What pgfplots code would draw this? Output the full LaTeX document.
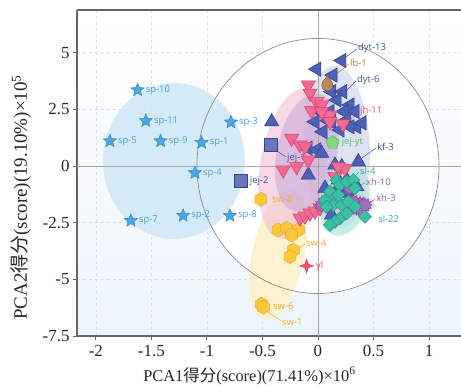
\documentclass[border=0pt]{standalone}
\usepackage{fontspec}
\setmainfont{Liberation Serif}
\newfontfamily\cjk{Noto Sans CJK SC}
\newfontfamily\lab{Open Sans}
\usepackage{pgfplots}
\pgfplotsset{compat=1.18}

\definecolor{axg}{HTML}{666666}
\definecolor{spf}{HTML}{4DA6E0}\definecolor{spd}{HTML}{2B86C8}\definecolor{spt}{HTML}{4A9FD8}
\definecolor{dbf}{HTML}{4D60B3}\definecolor{dbd}{HTML}{2E3E8E}\definecolor{dbt}{HTML}{3E54A3}
\definecolor{jhf}{HTML}{F06A92}\definecolor{jhd}{HTML}{D83E6C}\definecolor{jht}{HTML}{E8507A}
\definecolor{slf}{HTML}{3DBFA5}\definecolor{sld}{HTML}{26947E}\definecolor{slt}{HTML}{2EA891}
\definecolor{xhf}{HTML}{A56CC1}\definecolor{xhd}{HTML}{7D4698}\definecolor{xht}{HTML}{9A5AB5}
\definecolor{swf}{HTML}{FBC73D}\definecolor{swd}{HTML}{EAA81C}\definecolor{swt}{HTML}{F2B22A}
\definecolor{ylf}{HTML}{F2505F}\definecolor{yld}{HTML}{D83545}
\definecolor{jqf}{HTML}{6B75BD}\definecolor{jqd}{HTML}{38438F}
\definecolor{gnf}{HTML}{86D67F}\definecolor{gnd}{HTML}{4CAF50}\definecolor{gnt}{HTML}{5CB85C}
\definecolor{lbf}{HTML}{B8875A}\definecolor{lbd}{HTML}{8A5A30}\definecolor{lbt}{HTML}{B5793F}
\definecolor{bgb}{RGB}{236,244,251}
\definecolor{elsp}{RGB}{207,232,247}
\definecolor{elsw}{RGB}{251,241,204}
\definecolor{eldy}{RGB}{217,223,242}
\definecolor{eljh}{RGB}{244,190,214}
\definecolor{elkf}{RGB}{196,168,216}
\definecolor{elsl}{RGB}{181,227,220}
\definecolor{elxh}{RGB}{210,182,224}

\pgfdeclareplotmark{fstar}{%
 \pgfpathmoveto{\pgfpointpolar{90}{\pgfplotmarksize}}%
 \pgfpathlineto{\pgfpointpolar{126}{0.45\pgfplotmarksize}}%
 \pgfpathlineto{\pgfpointpolar{162}{\pgfplotmarksize}}%
 \pgfpathlineto{\pgfpointpolar{198}{0.45\pgfplotmarksize}}%
 \pgfpathlineto{\pgfpointpolar{234}{\pgfplotmarksize}}%
 \pgfpathlineto{\pgfpointpolar{270}{0.45\pgfplotmarksize}}%
 \pgfpathlineto{\pgfpointpolar{306}{\pgfplotmarksize}}%
 \pgfpathlineto{\pgfpointpolar{342}{0.45\pgfplotmarksize}}%
 \pgfpathlineto{\pgfpointpolar{18}{\pgfplotmarksize}}%
 \pgfpathlineto{\pgfpointpolar{54}{0.45\pgfplotmarksize}}%
 \pgfpathclose\pgfusepathqfillstroke}
\pgfdeclareplotmark{hexa}{%
 \pgfpathmoveto{\pgfpointpolar{90}{\pgfplotmarksize}}%
 \pgfpathlineto{\pgfpointpolar{150}{\pgfplotmarksize}}%
 \pgfpathlineto{\pgfpointpolar{210}{\pgfplotmarksize}}%
 \pgfpathlineto{\pgfpointpolar{270}{\pgfplotmarksize}}%
 \pgfpathlineto{\pgfpointpolar{330}{\pgfplotmarksize}}%
 \pgfpathlineto{\pgfpointpolar{30}{\pgfplotmarksize}}%
 \pgfpathclose\pgfusepathqfillstroke}
\pgfdeclareplotmark{fourstar}{%
 \pgfpathmoveto{\pgfpointpolar{90}{\pgfplotmarksize}}%
 \pgfpathlineto{\pgfpointpolar{135}{0.35\pgfplotmarksize}}%
 \pgfpathlineto{\pgfpointpolar{180}{\pgfplotmarksize}}%
 \pgfpathlineto{\pgfpointpolar{225}{0.35\pgfplotmarksize}}%
 \pgfpathlineto{\pgfpointpolar{270}{\pgfplotmarksize}}%
 \pgfpathlineto{\pgfpointpolar{315}{0.35\pgfplotmarksize}}%
 \pgfpathlineto{\pgfpointpolar{0}{\pgfplotmarksize}}%
 \pgfpathlineto{\pgfpointpolar{45}{0.35\pgfplotmarksize}}%
 \pgfpathclose\pgfusepathqfillstroke}
\pgfdeclareplotmark{burst}{%
 \pgfpathmoveto{\pgfpointpolar{0}{\pgfplotmarksize}}%
 \pgfpathlineto{\pgfpointpolar{15}{0.7\pgfplotmarksize}}%
 \pgfpathlineto{\pgfpointpolar{30}{\pgfplotmarksize}}%
 \pgfpathlineto{\pgfpointpolar{45}{0.7\pgfplotmarksize}}%
 \pgfpathlineto{\pgfpointpolar{60}{\pgfplotmarksize}}%
 \pgfpathlineto{\pgfpointpolar{75}{0.7\pgfplotmarksize}}%
 \pgfpathlineto{\pgfpointpolar{90}{\pgfplotmarksize}}%
 \pgfpathlineto{\pgfpointpolar{105}{0.7\pgfplotmarksize}}%
 \pgfpathlineto{\pgfpointpolar{120}{\pgfplotmarksize}}%
 \pgfpathlineto{\pgfpointpolar{135}{0.7\pgfplotmarksize}}%
 \pgfpathlineto{\pgfpointpolar{150}{\pgfplotmarksize}}%
 \pgfpathlineto{\pgfpointpolar{165}{0.7\pgfplotmarksize}}%
 \pgfpathlineto{\pgfpointpolar{180}{\pgfplotmarksize}}%
 \pgfpathlineto{\pgfpointpolar{195}{0.7\pgfplotmarksize}}%
 \pgfpathlineto{\pgfpointpolar{210}{\pgfplotmarksize}}%
 \pgfpathlineto{\pgfpointpolar{225}{0.7\pgfplotmarksize}}%
 \pgfpathlineto{\pgfpointpolar{240}{\pgfplotmarksize}}%
 \pgfpathlineto{\pgfpointpolar{255}{0.7\pgfplotmarksize}}%
 \pgfpathlineto{\pgfpointpolar{270}{\pgfplotmarksize}}%
 \pgfpathlineto{\pgfpointpolar{285}{0.7\pgfplotmarksize}}%
 \pgfpathlineto{\pgfpointpolar{300}{\pgfplotmarksize}}%
 \pgfpathlineto{\pgfpointpolar{315}{0.7\pgfplotmarksize}}%
 \pgfpathlineto{\pgfpointpolar{330}{\pgfplotmarksize}}%
 \pgfpathlineto{\pgfpointpolar{345}{0.7\pgfplotmarksize}}%
 \pgfpathclose\pgfusepathqfillstroke}
\pgfdeclareplotmark{drop}{%
 \pgfpathmoveto{\pgfpoint{0pt}{1.1\pgfplotmarksize}}%
 \pgfpathcurveto{\pgfpoint{0.3\pgfplotmarksize}{0.6\pgfplotmarksize}}{\pgfpoint{0.75\pgfplotmarksize}{0.3\pgfplotmarksize}}{\pgfpoint{0.75\pgfplotmarksize}{-0.2\pgfplotmarksize}}%
 \pgfpathcurveto{\pgfpoint{0.75\pgfplotmarksize}{-0.65\pgfplotmarksize}}{\pgfpoint{0.4\pgfplotmarksize}{-0.95\pgfplotmarksize}}{\pgfpoint{0pt}{-0.95\pgfplotmarksize}}%
 \pgfpathcurveto{\pgfpoint{-0.4\pgfplotmarksize}{-0.95\pgfplotmarksize}}{\pgfpoint{-0.75\pgfplotmarksize}{-0.65\pgfplotmarksize}}{\pgfpoint{-0.75\pgfplotmarksize}{-0.2\pgfplotmarksize}}%
 \pgfpathcurveto{\pgfpoint{-0.75\pgfplotmarksize}{0.3\pgfplotmarksize}}{\pgfpoint{-0.3\pgfplotmarksize}{0.6\pgfplotmarksize}}{\pgfpoint{0pt}{1.1\pgfplotmarksize}}%
 \pgfpathclose\pgfusepathqfillstroke}

\tikzset{lbl/.style={font=\lab\fontsize{9.5}{10}\selectfont, anchor=west, inner sep=0pt},
  ldr/.style={line width=0.5pt}}

\begin{document}
\begin{tikzpicture}
\begin{axis}[
  at={(0,0)}, anchor=south west, scale only axis,
  width=384bp, height=326bp,
  xmin=-2.17, xmax=1.288, ymin=-7.5, ymax=6.88,
  axis x line*=bottom, axis y line*=left,
  axis line style={color=axg, line width=1.2pt},
  axis background/.style={shade, top color=white, middle color=white, bottom color=bgb},
  xtick={-2,-1.5,-1,-0.5,0,0.5,1},
  ytick={-7.5,-5,-2.5,0,2.5,5},
  tick align=outside, major tick length=4bp,
  tick style={color=axg, line width=0.9pt},
  /pgf/number format/assume math mode=true,
  ticklabel style={font=\fontsize{17}{17}\selectfont, color=black!85},
  xticklabel style={yshift=-2bp},
  grid=major, major grid style={dashed, color=black!12, line width=0.5pt},
  xlabel={PCA1{\cjk 得分}(score)(71.41\%)×10\textsuperscript{6}},
  ylabel={PCA2{\cjk 得分}(score)(19.10\%)×10\textsuperscript{5}},
  xlabel style={at={(axis description cs:0.449,0)}, anchor=center, yshift=-40bp, font=\fontsize{16.5}{17}\selectfont, color=black!85},
  ylabel style={at={(axis description cs:-0.146,0.425)}, anchor=center, font=\fontsize{19}{19}\selectfont, color=black!85},
  clip=false,
]
% big circle
\fill[white] (axis cs:0,0) ellipse [x radius=121bp, y radius=127.5bp];
% group ellipses
\fill[elsp, opacity=0.85] (axis cs:-1.297,0.221) ellipse [x radius=71bp, y radius=78bp];
\fill[elsw, opacity=0.9] (axis cs:-0.360,-3.926) ellipse [x radius=66bp, y radius=26bp, rotate=78];
\fill[eldy, opacity=0.85] (axis cs:0.170,0.80) ellipse [x radius=82bp, y radius=33bp, rotate=92];
\fill[eljh, opacity=0.6] (axis cs:-0.22,0.10) ellipse [x radius=76bp, y radius=33bp, rotate=80];
\fill[elkf, opacity=0.55] (axis cs:-0.10,0.60) ellipse [x radius=60bp, y radius=30bp, rotate=78];
\fill[elsl, opacity=0.7] (axis cs:0.243,-1.55) ellipse [x radius=36bp, y radius=23bp, rotate=70];
\fill[elxh, opacity=0.5] (axis cs:0.243,-1.720) ellipse [x radius=30bp, y radius=12bp];
% circle outline and zero lines
\draw[color=black!45, line width=0.7pt] (axis cs:0,0) ellipse [x radius=121bp, y radius=127.5bp];
\draw[color=black!35, line width=0.6pt] (axis cs:0,-7.5) -- (axis cs:0,6.88);
\draw[color=black!35, line width=0.6pt] (axis cs:-2.17,0) -- (axis cs:1.288,0);
\draw[color=axg, line width=1.2pt] (axis cs:-2.17,6.88) -- (axis cs:1.288,6.88);

% sp
\addplot[only marks, mark=fstar, mark size=7pt, mark options={fill=spf, draw=spd, line width=0.4pt}] coordinates {
(-1.624,3.35) (-1.550,1.99) (-1.874,1.10) (-1.417,1.10) (-1.048,1.03) (-0.784,1.93) (-1.108,-0.30) (-1.685,-2.41) (-1.214,-2.19) (-0.793,-2.19)};
% sw
\addplot[only marks, mark=hexa, mark size=7pt, mark options={fill=swf, draw=swd, line width=0.4pt}] coordinates {
(-0.514,-1.47) (-0.358,-2.82) (-0.282,-2.75) (-0.177,-2.82) (-0.237,-3.04) (-0.222,-3.71) (-0.252,-4.0) (-0.507,-6.10) (-0.492,-6.23)};
% yl
\addplot[only marks, mark=fourstar, mark size=7pt, mark options={fill=ylf, draw=yld, line width=0.4pt}] coordinates {(-0.102,-4.41)};
% jej
\addplot[only marks, mark=square*, mark size=6.3pt, mark options={fill=jqf, draw=jqd, line width=0.5pt}] coordinates {(-0.696,-0.65) (-0.426,0.93)};
% dyt
\addplot[only marks, mark=triangle*, mark size=8.3pt, mark options={rotate=90, fill=dbf, draw=dbd, line width=0.5pt}] coordinates {
(0.214,4.65) (-0.012,4.27) (0.135,4.01) (0.123,3.28) (0.223,3.28) (0.171,2.91) (0.288,2.69) (0.333,2.40) (0.234,2.40) (0.108,2.40) (0.018,2.40) (-0.027,1.95) (0.123,1.95) (0.259,2.03) (0.349,1.73) (0.396,1.90) (0.09,2.0) (0.045,1.51) (0.198,1.59) (0.288,1.73) (-0.09,0.79) (-0.012,0.71)};
% kf
\addplot[only marks, mark=triangle*, mark size=8.3pt, mark options={fill=dbf, draw=dbd, line width=0.5pt}] coordinates {
(-0.417,1.95) (0.033,0.56) (0.153,0.04) (0.214,-0.03) (0.363,0.19) (-0.087,-0.40) (0.063,-0.98) (0.183,-0.62) (0.259,-0.62) (0.198,-1.06) (0.288,-0.98) (0.349,-0.91) (0.153,-1.20) (0.228,-1.20) (0.123,-2.16) (0.259,-1.13)};
% jh
\addplot[only marks, mark=triangle*, mark size=8.3pt, mark options={rotate=180, fill=jhf, draw=jhd, line width=0.5pt}] coordinates {
(-0.087,3.57) (-0.072,3.21) (-0.012,2.84) (0.033,2.69) (-0.057,2.44) (0.108,2.25) (0.033,2.40) (0.108,1.95) (0.225,1.85) (-0.237,1.22) (-0.162,0.93) (-0.117,0.85) (-0.087,0.26) (-0.192,-0.03) (-0.313,-0.18) (0.243,-0.10) (0.183,-0.03) (0.153,-0.47) (-0.162,-2.29) (-0.117,-2.21) (-0.072,-2.08) (-0.027,-1.99) (0.018,-1.85)};
% xh
\addplot[only marks, mark=burst, mark size=7pt, mark options={fill=xhf, draw=xhd, line width=0.4pt}] coordinates {
(0.378,-1.65) (0.349,-1.87) (0.318,-1.57) (0.394,-1.94) (0.423,-1.72) (0.063,-1.57) (0.033,-1.72) (0.138,-1.50) (0.288,-0.97)};
% sl
\addplot[only marks, mark=square*, mark size=4.7pt, mark options={rotate=45, fill=slf, draw=sld, line width=0.4pt}] coordinates {
(0.168,-0.62) (0.198,-0.84) (0.259,-0.69) (0.318,-0.62) (0.333,-0.98) (0.108,-1.13) (0.153,-1.42) (0.063,-1.50) (0.138,-1.72) (0.214,-1.72) (0.273,-1.57) (0.333,-1.80) (0.423,-2.24) (0.198,-2.31) (0.153,-2.46) (0.259,-2.09) (0.078,-1.80) (0.183,-1.28) (0.108,-2.60)};
% jej-yt
\addplot[only marks, mark=pentagon*, mark size=7pt, mark options={fill=gnf, draw=gnd, line width=0.4pt}] coordinates {(0.132,1.03)};
% lb-1
\addplot[only marks, mark=drop, mark size=7.5pt, mark options={fill=lbf, draw=lbd, line width=0.4pt}] coordinates {(0.084,3.62)};

% labels sp
\node[lbl, text=spt, xshift=8bp] at (axis cs:-1.624,3.35) {sp-10};
\node[lbl, text=spt, xshift=8bp] at (axis cs:-1.550,1.99) {sp-11};
\node[lbl, text=spt, xshift=8bp] at (axis cs:-1.874,1.10) {sp-5};
\node[lbl, text=spt, xshift=8bp] at (axis cs:-1.417,1.10) {sp-9};
\node[lbl, text=spt, xshift=8bp] at (axis cs:-1.048,1.03) {sp-1};
\node[lbl, text=spt, xshift=8bp] at (axis cs:-0.784,1.93) {sp-3};
\node[lbl, text=spt, xshift=8bp] at (axis cs:-1.108,-0.30) {sp-4};
\node[lbl, text=spt, xshift=8bp] at (axis cs:-1.685,-2.41) {sp-7};
\node[lbl, text=spt, xshift=8bp] at (axis cs:-1.214,-2.19) {sp-2};
\node[lbl, text=spt, xshift=8bp] at (axis cs:-0.793,-2.19) {sp-8};
% jej
\node[lbl, text=dbt, xshift=9bp] at (axis cs:-0.696,-0.65) {jej-2};
\draw[ldr, dbt] (axis cs:-0.369,0.662) -- (axis cs:-0.288,0.397);
\node[lbl, text=dbt] at (axis cs:-0.279,0.353) {jej-1};
\node[lbl, text=gnt, xshift=9bp] at (axis cs:0.132,1.03) {jej-yt};
% dyt, lb
\draw[ldr, dbt] (axis cs:0.252,4.808) -- (axis cs:0.351,5.161);
\node[lbl, text=dbt] at (axis cs:0.360,5.205) {dyt-13};
\draw[ldr, lbt] (axis cs:0.099,3.794) -- (axis cs:0.279,4.499);
\node[lbl, text=lbt] at (axis cs:0.288,4.543) {lb-1};
\draw[ldr, dbt] (axis cs:0.261,3.352) -- (axis cs:0.342,3.749);
\node[lbl, text=dbt] at (axis cs:0.351,3.794) {dyt-6};
\draw[ldr, jht] (axis cs:0.270,1.941) -- (axis cs:0.369,2.382);
\node[lbl, text=jht] at (axis cs:0.378,2.426) {jh-11};
\draw[ldr, dbt] (axis cs:0.396,0.353) -- (axis cs:0.523,0.794);
\node[lbl, text=dbt] at (axis cs:0.532,0.838) {kf-3};
\draw[ldr, slt] (axis cs:0.306,-0.618) -- (axis cs:0.369,-0.265);
\node[lbl, text=slt] at (axis cs:0.378,-0.221) {sl-4};
\draw[ldr, xht] (axis cs:0.333,-0.926) -- (axis cs:0.423,-0.750);
\node[lbl, text=xht] at (axis cs:0.432,-0.706) {xh-10};
\draw[ldr, xht] (axis cs:0.441,-1.720) -- (axis cs:0.514,-1.456);
\node[lbl, text=xht] at (axis cs:0.523,-1.412) {xh-3};
\node[lbl, text=slt] at (axis cs:0.541,-2.338) {sl-22};
% sw, yl
\node[lbl, text=swt] at (axis cs:-0.414,-1.456) {sw-8};
\draw[ldr, swt] (axis cs:-0.180,-3.661) -- (axis cs:-0.117,-3.441);
\node[lbl, text=swt] at (axis cs:-0.108,-3.397) {sw-4};
\node[lbl, text=swt] at (axis cs:-0.405,-6.176) {sw-6};
\draw[ldr, swt] (axis cs:-0.450,-6.440) -- (axis cs:-0.333,-6.837);
\node[lbl, text=swt] at (axis cs:-0.324,-6.881) {sw-1};
\node[lbl, text=ylf] at (axis cs:-0.018,-4.411) {yl};
\end{axis}
\pgfresetboundingbox
\useasboundingbox (-77bp,-50bp) rectangle (384bp,336bp);
\end{tikzpicture}
\end{document}
